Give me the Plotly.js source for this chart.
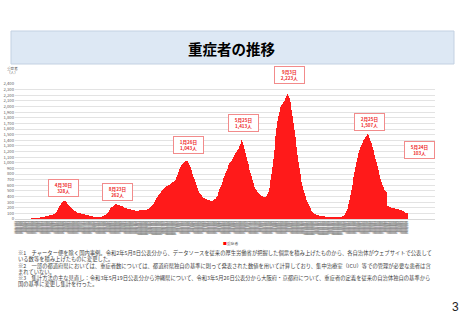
<!DOCTYPE html>
<html><head><meta charset="utf-8">
<script src="https://cdn.plot.ly/plotly-3.0.1.min.js"></script>
<style>html,body{margin:0;padding:0;background:#fff;}#chart{width:462px;height:320px;}</style>
</head><body><div id="chart"></div>
<script>
// ---- data: daily number of severe cases (重症者), by month ----
const monthKeys = ['2020-01','2020-02','2020-03','2020-04','2020-05','2020-06','2020-07','2020-08','2020-09','2020-10','2020-11','2020-12',
  '2021-01','2021-02','2021-03','2021-04','2021-05','2021-06','2021-07','2021-08','2021-09','2021-10','2021-11','2021-12',
  '2022-01','2022-02','2022-03','2022-04','2022-05'];
const firstDayOfSeries = 15;
const sev_2020_01 = [0,0,0,0,0,0,0,0,0,0,0,0,0,0,0,0,0];
const sev_2020_02 = [0,0,0,0,0,0,0,0,0,1,1,2,2,3,4,5,6,7,8,9,10,11,12,13,13,14,15,16,16];
const sev_2020_03 = [17,18,19,20,21,22,24,25,26,27,28,30,31,33,34,36,37,39,41,43,45,47,49,51,53,55,58,60,62,64,66];
const sev_2020_04 = [70,72,74,76,78,80,83,86,90,94,98,103,110,118,130,145,160,178,195,212,228,242,255,267,278,288,297,306,316,328];
const sev_2020_05 = [325,322,318,313,305,296,287,277,268,258,248,238,228,219,210,202,194,186,179,172,165,159,153,147,141,136,131,127,123,119,115];
const sev_2020_06 = [112,109,106,104,101,99,97,95,93,91,89,87,86,84,83,81,79,77,75,73,71,69,67,65,63,61,59,57,55,53];
const sev_2020_07 = [51,49,47,45,43,41,40,39,38,37,36,35,35,34,34,35,36,37,38,39,41,43,45,48,51,55,59,63,68,73,79];
const sev_2020_08 = [86,94,102,111,120,130,140,150,162,175,187,197,206,214,220,226,232,237,243,248,253,258,262,259,257,254,252,249,247,244,242];
const sev_2020_09 = [239,236,233,230,227,224,220,216,212,208,204,200,197,194,191,188,185,183,181,179,178,176,174,172,170,168,166,164,162,160];
const sev_2020_10 = [157,154,151,149,148,147,147,148,149,150,150,151,152,152,153,154,155,156,157,158,160,161,162,163,164,165,166,167,168,169,171];
const sev_2020_11 = [173,177,182,188,195,203,212,222,232,242,251,262,274,287,301,315,328,340,354,368,381,394,408,420,433,445,457,468,478,488];
const sev_2020_12 = [497,508,520,531,542,552,560,566,571,575,580,585,589,593,597,601,606,611,616,622,628,634,640,645,651,657,663,669,675,681,690];
const sev_2021_01 = [702,718,738,760,785,812,838,862,884,903,920,935,948,958,968,978,988,997,1005,1012,1018,1023,1027,1031,1037,1043,1030,1012,995,978,960];
const sev_2021_02 = [940,918,895,871,846,822,798,776,753,729,705,681,657,633,610,588,566,545,525,505,487,470,455,441,429,418,408,399];
const sev_2021_03 = [391,383,376,370,365,360,356,352,348,345,342,339,336,334,332,330,328,326,325,325,326,328,331,334,338,343,349,356,364,373,383];
const sev_2021_04 = [395,412,434,458,481,503,525,547,569,590,612,634,656,678,700,722,744,766,788,810,832,854,875,897,918,938,956,973,988,1002];
const sev_2021_05 = [1015,1027,1040,1052,1065,1080,1095,1110,1124,1138,1152,1166,1180,1194,1208,1222,1236,1250,1265,1280,1296,1312,1330,1370,1413,1390,1366,1344,1322,1300,1275];
const sev_2021_06 = [1245,1210,1175,1140,1105,1072,1040,1010,978,945,912,880,850,820,790,760,730,700,672,645,620,596,575,555,538,522,508,495,483,472];
const sev_2021_07 = [462,453,445,438,431,424,418,412,407,403,400,397,395,394,394,396,400,406,414,425,440,460,485,515,550,590,635,685,740,800,865];
const sev_2021_08 = [930,1000,1075,1150,1230,1310,1390,1470,1545,1615,1680,1735,1785,1830,1870,1905,1935,1960,1983,2003,2020,2035,2048,2060,2072,2085,2098,2112,2128,2145,2165];
const sev_2021_09 = [2185,2205,2223,2212,2195,2172,2145,2116,2080,2040,1995,1945,1890,1830,1770,1710,1650,1590,1528,1465,1400,1338,1275,1210,1145,1080,1015,955,900,845];
const sev_2021_10 = [795,748,703,660,620,583,548,515,485,457,430,404,380,357,335,314,295,277,260,245,228,210,192,175,160,146,134,124,115,107,100];
const sev_2021_11 = [95,90,86,82,78,75,72,69,66,64,62,60,58,56,54,52,51,50,49,48,47,46,45,44,43,42,41,41,40,40];
const sev_2021_12 = [39,38,37,36,36,35,35,34,34,33,33,33,32,32,32,31,31,31,32,32,33,33,34,35,36,37,38,40,42,44,47];
const sev_2022_01 = [50,53,57,62,70,80,92,106,121,137,155,177,202,230,262,297,335,375,418,462,508,555,603,652,700,748,795,840,885,930,975];
const sev_2022_02 = [1015,1052,1088,1120,1150,1178,1203,1227,1250,1272,1293,1313,1332,1350,1367,1383,1398,1412,1425,1438,1452,1466,1480,1494,1507,1500,1490,1478];
const sev_2022_03 = [1460,1440,1418,1395,1370,1343,1315,1287,1258,1228,1198,1167,1136,1104,1072,1040,1008,976,944,912,880,848,816,784,752,720,690,662,636,612,590];
const sev_2022_04 = [570,552,536,522,510,500,492,484,476,236,231,226,221,217,213,209,206,203,200,197,195,193,191,189,187,185,183,181,179,177];
const sev_2022_05 = [175,173,171,169,167,165,163,161,160,158,156,152,147,142,137,132,127,122,117,113,109,106,104,103];

const monthValues = [sev_2020_01,sev_2020_02,sev_2020_03,sev_2020_04,sev_2020_05,sev_2020_06,sev_2020_07,sev_2020_08,sev_2020_09,sev_2020_10,sev_2020_11,sev_2020_12,
  sev_2021_01,sev_2021_02,sev_2021_03,sev_2021_04,sev_2021_05,sev_2021_06,sev_2021_07,sev_2021_08,sev_2021_09,sev_2021_10,sev_2021_11,sev_2021_12,
  sev_2022_01,sev_2022_02,sev_2022_03,sev_2022_04,sev_2022_05];

// callout dates (peaks and latest)
const calloutDates  = ['2020/4/30','2020/8/23','2021/1/26','2021/5/25','2021/9/3','2022/2/25','2022/5/24'];
const calloutLabels = ['4月30日','8月23日','1月26日','5月25日','9月3日','2月25日','5月24日'];

const titleText = '重症者の推移';
const seriesName = '重症者';
const notes = [
  '※1　チャーター便を除く国内事例。令和2年5月8日公表分から、データソースを従来の厚生労働省が把握した個票を積み上げたものから、各自治体がウェブサイトで公表して',
  'いる数等を積み上げたものに変更した。',
  '※2　一部の都道府県においては、重症者数については、都道府県独自の基準に則って発表された数値を用いて計算しており、集中治療室（ICU）等での管理が必要な患者は含',
  'まれていない。',
  '※3　集計方法の主な見直し：令和3年5月19日公表分から沖縄県について、令和3年5月26日公表分から大阪府・京都府について、重症者の定義を従来の自治体独自の基準から',
  '国の基準に変更し集計を行った。'
];

// ---- build series ----
const xs = [], ys = [];
monthKeys.forEach((k, i) => {
  const [yy, mm] = k.split('-').map(Number);
  const start = i === 0 ? firstDayOfSeries : 1;
  monthValues[i].forEach((v, j) => {
    xs.push(yy + '/' + mm + '/' + (start + j));
    ys.push(v);
  });
});

// ---- layout helpers (pixel -> paper) ----
const L = 15, R = 435, T = 84, B = 219, W = 462, H = 320;
const px = x => (x - L) / (R - L);
const py = y => (B - y) / (B - T);
const FONT = '"Noto Sans CJK JP", "Noto Sans", sans-serif';

const calloutY = [187.5, 192, 145, 122.5, 74.5, 121.5, 149.5];
const calloutShift = [0, 1, 1, 2, 2, 2, 12];

const annotations = [];
annotations.push({xref:'paper', yref:'paper', x:px(232), y:py(48.5), text:'<b>' + titleText + '</b>', showarrow:false,
  font:{family:FONT, size:14.5, color:'#000'}, xanchor:'center', yanchor:'middle'});
annotations.push({xref:'paper', yref:'paper', x:px(12), y:py(68), text:'重症者', showarrow:false,
  font:{family:FONT, size:3.6, color:'#595959'}, xanchor:'center', yanchor:'middle'});
annotations.push({xref:'paper', yref:'paper', x:px(12), y:py(72.5), text:'（人）', showarrow:false,
  font:{family:FONT, size:3.6, color:'#595959'}, xanchor:'center', yanchor:'middle'});

calloutDates.forEach((d, i) => {
  const idx = xs.indexOf(d);
  const v = ys[idx];
  annotations.push({xref:'x', yref:'paper', x:d, xshift:calloutShift[i], y:py(calloutY[i]),
    text:'<b>' + calloutLabels[i] + '<br>' + v.toLocaleString('en-US') + '人</b>',
    showarrow:false, font:{family:FONT, size:4.6, color:'#ee2a2a'},
    bgcolor:'#ffffff', bordercolor:'#f28b8b', borderwidth:1, borderpad:1,
    width:27, height:14, align:'center', xanchor:'center', yanchor:'middle'});
});

annotations.push({xref:'paper', yref:'paper', x:px(231), y:py(243), showarrow:false,
  text:'<span style="color:#ff0000">■</span>' + seriesName,
  font:{family:FONT, size:3.8, color:'#595959'}, xanchor:'center', yanchor:'middle'});

const noteY = [253.3, 259.2, 265.8, 271.6, 277.6, 283.8];
notes.forEach((t, i) => {
  annotations.push({xref:'paper', yref:'paper', x:px(16), y:py(noteY[i]), text:t, showarrow:false,
    font:{family:FONT, size:5.3, color:'#404040'}, xanchor:'left', yanchor:'middle'});
});

annotations.push({xref:'paper', yref:'paper', x:px(455), y:py(307), text:'3', showarrow:false,
  font:{family:'"Liberation Sans", Arial, sans-serif', size:12, color:'#222'}, xanchor:'center', yanchor:'middle'});

const layout = {
  width: W, height: H,
  margin: {l: L, r: W - R, t: T, b: H - B, pad: 0},
  paper_bgcolor: '#ffffff', plot_bgcolor: '#ffffff',
  showlegend: false,
  bargap: 0,
  font: {family: FONT},
  xaxis: {
    type: 'category', tickmode: 'linear', tick0: 0, dtick: 1,
    tickangle: -90, tickfont: {family: FONT, size: 2.7, color: '#8a8a8a'},
    ticks: '', showgrid: false, zeroline: false,
    showline: true, linecolor: '#d9d9d9', linewidth: 1,
    automargin: false, fixedrange: true
  },
  yaxis: {
    range: [0, 2400], tickmode: 'linear', tick0: 0, dtick: 100,
    tickformat: ',d', tickfont: {family: FONT, size: 4.2, color: '#595959'},
    showgrid: true, gridcolor: '#e3e3e3', gridwidth: 1,
    zeroline: false, showline: false, ticks: '', automargin: false, fixedrange: true
  },
  shapes: [{
    type: 'rect', xref: 'paper', yref: 'paper', layer: 'below',
    x0: px(11), x1: px(454), y0: py(64), y1: py(31),
    fillcolor: '#dde8f4', line: {color: '#c3d1e2', width: 1}
  }],
  annotations: annotations
};

const trace = {
  type: 'bar', name: seriesName, x: xs, y: ys,
  marker: {color: '#ff1a1a', line: {width: 0}},
  hoverinfo: 'skip'
};

Plotly.newPlot('chart', [trace], layout, {staticPlot: true, displayModeBar: false});
</script>
</body></html>
